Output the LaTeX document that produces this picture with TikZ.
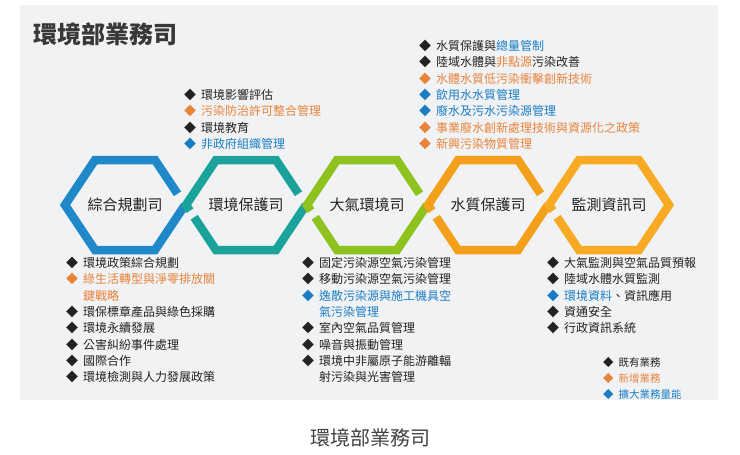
\documentclass[tikz,border=0pt]{standalone}
\usepackage{fontspec}
\setmainfont{Noto Sans CJK TC}
\definecolor{hb}{HTML}{1E88C8}
\definecolor{ht}{HTML}{1BA39B}
\definecolor{hg}{HTML}{8DC21F}
\definecolor{ho}{HTML}{F5A01A}
\definecolor{hy}{HTML}{F8AA22}
\definecolor{tk}{HTML}{222222}
\definecolor{to}{HTML}{E8833A}
\definecolor{tb}{HTML}{1A7DC4}
\definecolor{bg}{HTML}{F1F2F4}
\newcommand{\D}[1]{\textcolor{#1}{◆}\hspace{5pt}}
\newcommand{\I}{\hspace{17pt}}
\tikzset{blk/.style={anchor=north west,align=left,inner sep=0pt,font=\fontsize{12}{16.3}\selectfont,text=tk},
lbl/.style={font=\fontsize{15}{18}\selectfont,text=tk},
hx/.style={line width=8.5pt,line join=miter}}
\begin{document}
\begin{tikzpicture}[x=1pt,y=-1pt]
\useasboundingbox (0,0) rectangle (740,455);
\fill[white] (0,0) rectangle (740,455);
\fill[bg] (20,5) rectangle (718,400);
\node[anchor=west,font=\fontsize{24}{28}\selectfont\bfseries,text=tk!90] (title) at (30,34) {環境部業務司};
% hexagons: upper-right edge stops short of the crossing
\foreach \c/\col in {125/hb,246/ht,367/hg,488/ho}{
  \draw[hx,\col] (\c+60-0.25*30,205-0.25*45) -- (\c+30,160) -- (\c-30,160) -- (\c-60,205) -- (\c-30,250) -- (\c+30,250) -- (\c+60,205);
}
\draw[hx,hy] (609+60,205) -- (609+30,160) -- (609-30,160) -- (609-60,205) -- (609-30,250) -- (609+30,250) -- cycle;
% lower-left edges of hexes 2..5 start after a gap at the crossing
\foreach \c/\col in {246/ht,367/hg,488/ho,609/hy}{
  \draw[line width=10.5pt,bg] (\c-60+0.27*30,205+0.27*45) -- (\c-60+0.13*30,205+0.13*45);
}
\node[lbl] (n1) at (125,205) {綜合規劃司};
\node[lbl] (n2) at (246,205) {環境保護司};
\node[lbl] (n3) at (367,205) {大氣環境司};
\node[lbl] (n4) at (488,205) {水質保護司};
\node[lbl] (n5) at (609,205) {監測資訊司};
% blocks
\node[blk] (ba) at (184,89) {\D{tk}環境影響評估\\\D{to}\textcolor{to}{污染防治許可整合管理}\\\D{tk}環境教育\\\D{tb}\textcolor{tb}{非政府組織管理}};
\node[blk] (bb) at (419,40) {\D{tk}水質保護與\textcolor{tb}{總量管制}\\\D{tk}陸域水體與\textcolor{to}{非點源}污染改善\\\D{to}\textcolor{to}{水體水質低污染衝擊創新技術}\\\D{tb}\textcolor{tb}{飲用水水質管理}\\\D{tb}\textcolor{tb}{廢水及污水污染源管理}\\\D{to}\textcolor{to}{事業廢水創新處理技術與資源化之政策}\\\D{to}\textcolor{to}{新興污染物質管理}};
\node[blk] (bc) at (66,257) {\D{tk}環境政策綜合規劃\\\D{to}\textcolor{to}{綠生活轉型與淨零排放關}\\\I\textcolor{to}{鍵戰略}\\\D{tk}環保標章產品與綠色採購\\\D{tk}環境永續發展\\\D{tk}公害糾紛事件處理\\\D{tk}國際合作\\\D{tk}環境檢測與人力發展政策};
\node[blk] (bd) at (302,257) {\D{tk}固定污染源空氣污染管理\\\D{tk}移動污染源空氣污染管理\\\D{tb}\textcolor{tb}{逸散污染源與施工機具空}\\\I\textcolor{tb}{氣污染管理}\\\D{tk}室內空氣品質管理\\\D{tk}噪音與振動管理\\\D{tk}環境中非屬原子能游離輻\\\I 射污染與光害管理};
\node[blk] (be) at (547,257) {\D{tk}大氣監測與空氣品質預報\\\D{tk}陸域水體水質監測\\\D{tb}\textcolor{tb}{環境資料}、資訊應用\\\D{tk}資通安全\\\D{tk}行政資訊系統};
\node[blk,font=\fontsize{10.5}{16}\selectfont] (lg) at (603,357) {\D{tk}既有業務\\\D{to}\textcolor{to}{新增業務}\\\D{tb}\textcolor{tb}{擴大業務量能}};
\node[font=\fontsize{20}{24}\selectfont,text=tk!85] (cap) at (370,438) {環境部業務司};
\end{tikzpicture}
\end{document}
